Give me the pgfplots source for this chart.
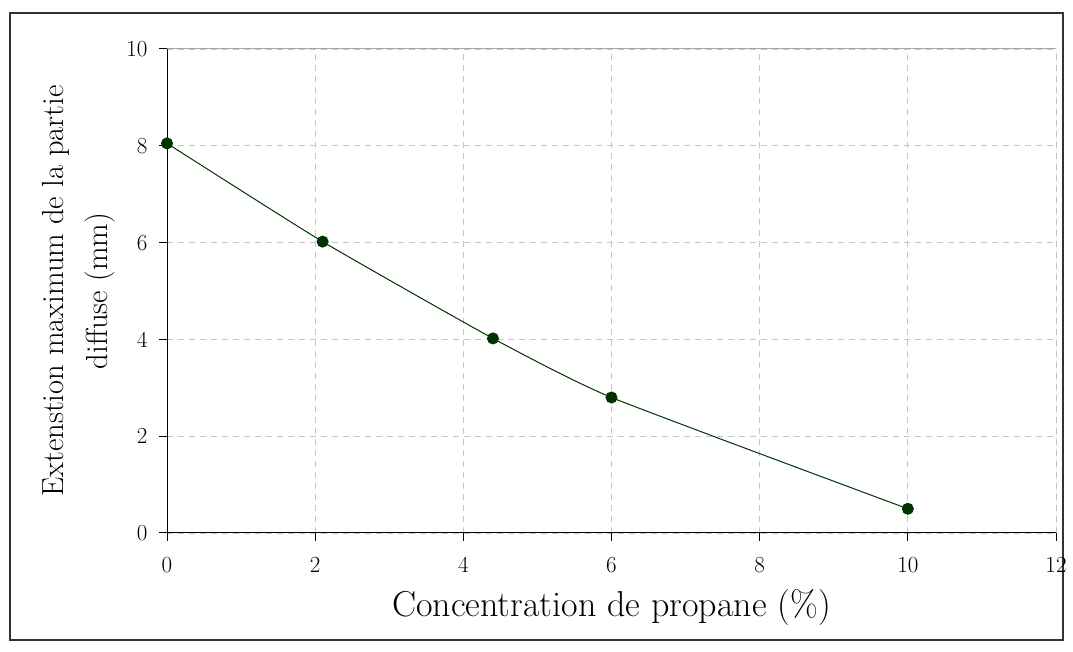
\documentclass[border=0pt]{standalone}
\usepackage{fontspec}
\usepackage{pgfplots}
\pgfplotsset{compat=1.18}
\definecolor{dgreen}{RGB}{0,51,0}
\begin{document}
\begin{tikzpicture}[x=1pt,y=1pt]
\path[use as bounding box] (0,0) rectangle (1073,652);
\draw[line width=1.2pt,black!80] (10,12) rectangle (1063,639);
\begin{axis}[
  at={(167pt,119pt)}, anchor=south west,
  scale only axis, width=889pt, height=484pt,
  xmin=0, xmax=12, ymin=0, ymax=10,
  xtick={0,2,...,12}, ytick={0,2,...,10},
  grid=major,
  major grid style={gray!45, line width=0.8pt, dash pattern=on 6pt off 5pt},
  axis line style={line width=1pt},
  axis x line*=bottom, axis y line*=left,
  tick style={black, line width=1pt},
  tick align=outside, major tick length=8pt,
  /pgf/number format/assume math mode=true,
  ticklabel style={font=\fontsize{23}{25}\selectfont},
  xticklabel style={yshift=-13pt},
  yticklabel style={xshift=-8pt},
  xlabel={Concentration de propane (\%)},
  ylabel={Extenstion maximum de la partie\\diffuse (mm)},
  ylabel style={align=center, font=\fontsize{30.5}{44}\selectfont, yshift=4pt},
  xlabel style={font=\fontsize{36}{40}\selectfont, yshift=-10pt},
]
\draw[gray!70, line width=1pt] (axis cs:0,10) -- (axis cs:12,10) -- (axis cs:12,0);
\addplot[dgreen, line width=1pt, smooth, tension=0.3, mark=*, mark size=5.5pt, mark options={fill=dgreen}]
  coordinates {(0,8.05) (2.1,6.02) (4.4,4.02) (6,2.8) (10,0.5)};
\end{axis}
\end{tikzpicture}
\end{document}
